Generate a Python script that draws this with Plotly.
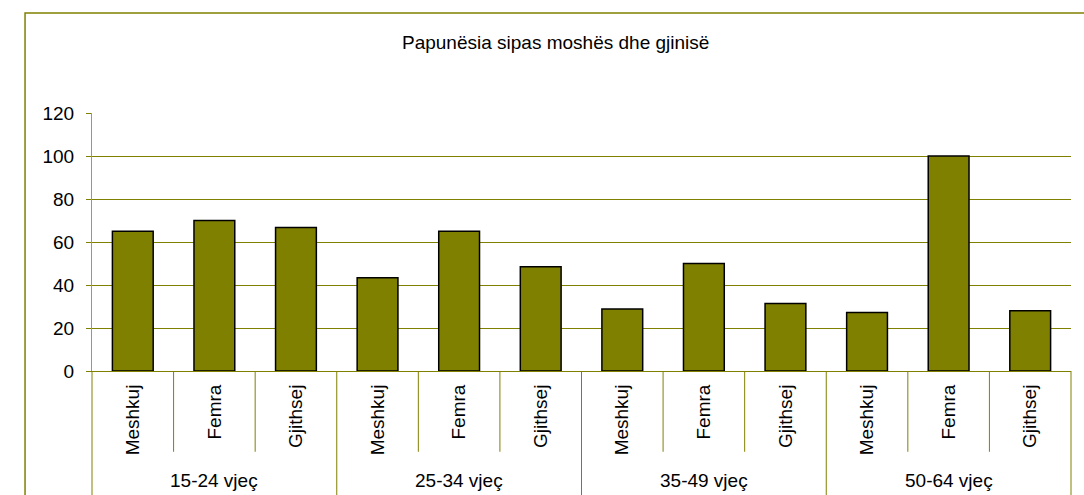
import plotly.graph_objects as go

# ---- data ----
groups = ["15-24 vjeç", "25-34 vjeç", "35-49 vjeç", "50-64 vjeç"]
genders = ["Meshkuj", "Femra", "Gjithsej"]
meshkuj = [65.0, 43.4, 28.8, 27.2]
femra = [70.0, 65.0, 50.0, 100.0]
gjithsej = [66.7, 48.5, 31.4, 28.0]
y_ticks = [0, 20, 40, 60, 80, 100, 120]
title_text = "Papunësia sipas moshës dhe gjinisë"

series = {"Meshkuj": meshkuj, "Femra": femra, "Gjithsej": gjithsej}
cats, labels, vals = [], [], []
for gi, g in enumerate(groups):
    for s in genders:
        cats.append(f"{g} · {s}")
        labels.append(s)
        vals.append(series[s][gi])

OLIVE = "#808000"
FONT = "Liberation Sans, Arial, sans-serif"

fig = go.Figure(
    go.Bar(
        x=cats, y=vals, width=0.5,
        marker=dict(color=OLIVE, line=dict(color="black", width=1.5)),
        hoverinfo="x+y",
    )
)

fig.update_layout(
    width=1084, height=495,
    margin=dict(l=92, r=13, t=113, b=124, autoexpand=False),
    paper_bgcolor="white", plot_bgcolor="white",
    showlegend=False,
    font=dict(family=FONT, size=19, color="black"),
)

fig.update_xaxes(
    type="category", categoryorder="array", categoryarray=cats,
    tickmode="array", tickvals=cats, ticktext=labels, tickangle=-90,
    ticks="", showgrid=False, showline=True, linecolor=OLIVE, linewidth=1,
    zeroline=False, range=[-0.5, len(cats) - 0.5], ticklabelstandoff=5,
)
fig.update_yaxes(
    range=[0, 120], tickmode="array", tickvals=y_ticks,
    showgrid=True, gridcolor=OLIVE, gridwidth=1,
    ticks="outside", ticklen=5, tickcolor=OLIVE, tickwidth=1,
    showline=True, linecolor="#a0a040", linewidth=1, zeroline=False,
    ticklabelstandoff=8,
)

shapes = []
n = len(cats)
per = len(genders)
for k in range(n + 1):
    is_group = k % per == 0
    shapes.append(dict(
        type="line", xref="x domain", yref="paper",
        x0=k / n, x1=k / n, y0=0, y1=-0.6 if is_group else -0.313,
        line=dict(color=OLIVE, width=1),
    ))
# outer chart frame
shapes.append(dict(
    type="rect", xref="paper", yref="paper",
    x0=-0.0684, x1=1.05, y0=-0.6, y1=1.3876,
    line=dict(color=OLIVE, width=1.5), fillcolor="rgba(0,0,0,0)", layer="below",
))
fig.update_layout(shapes=shapes)

annotations = [dict(
    text=title_text, xref="paper", yref="paper", x=0.473, y=1.275,
    xanchor="center", yanchor="middle", showarrow=False,
    font=dict(family=FONT, size=19, color="black"),
)]
for gi, g in enumerate(groups):
    annotations.append(dict(
        text=g, xref="x", yref="paper", x=cats[gi * per + 1], y=-0.4225,
        xanchor="center", yanchor="middle", showarrow=False,
        font=dict(family=FONT, size=19, color="black"),
    ))
fig.update_layout(annotations=annotations)

fig.write_html(
    "out.html",
    config={"displayModeBar": False},
    post_script="document.body.style.margin='0px';document.body.style.overflow='hidden';",
)
